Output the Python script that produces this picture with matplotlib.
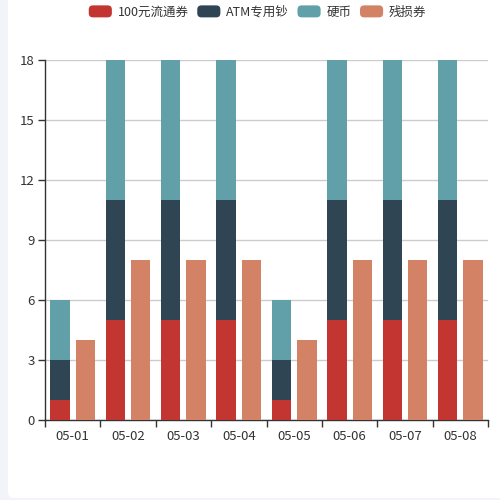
import matplotlib
matplotlib.use("Agg")
import matplotlib.pyplot as plt
from matplotlib.patches import FancyBboxPatch, Rectangle
from matplotlib.legend_handler import HandlerPatch
import numpy as np

plt.rcParams['font.family'] = ['Noto Sans CJK SC', 'DejaVu Sans']

categories = ['05-01', '05-02', '05-03', '05-04', '05-05', '05-06', '05-07', '05-08']
s_100 = [1, 5, 5, 5, 1, 5, 5, 5]
s_atm = [2, 6, 6, 6, 2, 6, 6, 6]
s_coin = [3, 7, 7, 7, 3, 7, 7, 7]
s_damaged = [4, 8, 8, 8, 4, 8, 8, 8]
names = ['100元流通券', 'ATM专用钞', '硬币', '残损券']
colors = ['#c23531', '#2f4554', '#61a0a8', '#d48265']
yticks = [0, 3, 6, 9, 12, 15, 18]

fig = plt.figure(figsize=(5, 5), dpi=100)
fig.patch.set_facecolor('#f3f4f9')
card = FancyBboxPatch((8 / 500, 2 / 500), 492 / 500 + 0.02, 498 / 500 + 0.02,
                      boxstyle='round,pad=0,rounding_size=0.012',
                      transform=fig.transFigure, facecolor='white', edgecolor='none', zorder=-10)
fig.patches.append(card)

ax = fig.add_axes([45 / 500, 80 / 500, 443 / 500, 360 / 500])
ax.set_facecolor('none')

x = np.arange(len(categories))
w = 0.35
off = 0.23
b1 = np.array(s_100)
b2 = b1 + np.array(s_atm)
ax.bar(x - off, s_100, w, color=colors[0], zorder=3)
ax.bar(x - off, s_atm, w, bottom=b1, color=colors[1], zorder=3)
ax.bar(x - off, s_coin, w, bottom=b2, color=colors[2], zorder=3)
ax.bar(x + off, s_damaged, w, color=colors[3], zorder=3)

ax.set_xlim(-0.5, len(categories) - 0.5)
ax.set_ylim(0, 18)
ax.set_yticks(yticks)
ax.set_yticklabels([str(v) for v in yticks])
ax.grid(axis='y', color='#cccccc', linewidth=1, zorder=0)
ax.set_xticks(x)
ax.set_xticklabels(categories)
ax.set_xticks(np.arange(len(categories) + 1) - 0.5, minor=True)
ax.tick_params(axis='x', which='major', length=0, pad=7, labelsize=9.5, labelcolor='#333333')
ax.tick_params(axis='x', which='minor', length=5, direction='out', color='#333333', width=1)
ax.tick_params(axis='y', length=5, direction='out', color='#333333', width=1, pad=2.5,
               labelsize=9.5, labelcolor='#333333')
for s in ['top', 'right']:
    ax.spines[s].set_visible(False)
for s in ['left', 'bottom']:
    ax.spines[s].set_color('#333333')
    ax.spines[s].set_linewidth(1)


class RoundHandler(HandlerPatch):
    def create_artists(self, legend, orig_handle, xdescent, ydescent, width, height, fontsize, trans):
        p = FancyBboxPatch((-xdescent, -ydescent), width, height,
                           boxstyle='round,pad=0,rounding_size=3',
                           facecolor=orig_handle.get_facecolor(), edgecolor='none', transform=trans)
        return [p]


handles = [Rectangle((0, 0), 1, 1, facecolor=c) for c in colors]
leg = fig.legend(handles, names, loc='center', bbox_to_anchor=(257.5 / 500, 1 - 12 / 500), ncol=4,
                 frameon=False, fontsize=9, handlelength=1.85, handleheight=1.1,
                 handletextpad=0.45, columnspacing=0.7,
                 handler_map={Rectangle: RoundHandler()})
for t in leg.get_texts():
    t.set_color('#333333')

fig.savefig('out.png', dpi=100, facecolor=fig.get_facecolor())
